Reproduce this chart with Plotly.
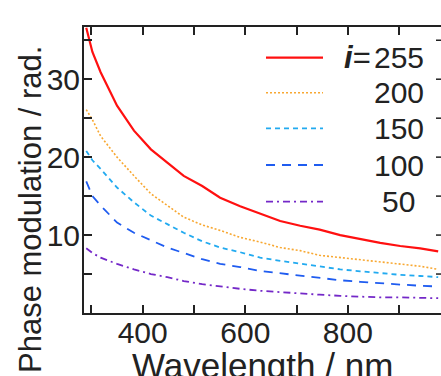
import plotly.graph_objects as go

# Wavelength samples (nm) and phase modulation (rad.) for each gray level i
wavelength = [290, 302, 318, 350, 383, 416, 448, 480, 516, 551, 590, 629,
              668, 707, 745, 785, 824, 863, 902, 941, 976]
phase_255 = [36.6, 33.5, 30.9, 26.6, 23.4, 21.0, 19.3, 17.6, 16.3, 14.8, 13.7, 12.7,
             11.8, 11.2, 10.7, 10.0, 9.5, 9.0, 8.6, 8.3, 7.9]
phase_200 = [26.1, 24.8, 22.7, 20.0, 17.6, 15.3, 13.8, 12.3, 11.3, 10.6, 9.7, 9.1,
             8.4, 8.0, 7.4, 7.1, 6.8, 6.5, 6.2, 6.0, 5.6]
phase_150 = [20.8, 19.6, 18.5, 16.1, 14.2, 12.5, 11.4, 10.3, 9.2, 8.4, 7.8, 7.1,
             6.7, 6.3, 6.0, 5.6, 5.35, 5.1, 4.9, 4.75, 4.6]
phase_100 = [16.9, 15.0, 13.8, 11.6, 10.3, 9.3, 8.4, 7.7, 6.9, 6.3, 5.9, 5.4,
             5.1, 4.8, 4.5, 4.2, 4.0, 3.8, 3.65, 3.5, 3.4]
phase_50 = [8.3, 7.7, 7.1, 6.3, 5.6, 5.0, 4.6, 4.1, 3.7, 3.4, 3.1, 2.85,
            2.65, 2.5, 2.35, 2.2, 2.1, 2.0, 2.0, 1.95, 1.9]

levels = ["255", "200", "150", "100", "50"]
series = [phase_255, phase_200, phase_150, phase_100, phase_50]
x_ticks = [400, 600, 800]
y_ticks = [10, 20, 30]
y_all_ticks = [5, 10, 15, 20, 25, 30, 35]

colors = ["#ff1010", "#f8a832", "#22aaf0", "#1f5cf0", "#7428c8"]
dashes = ["solid", "2px,2px", "5px,4px", "9px,7px", "7px,4px,2px,4px"]
widths = [2.2, 1.6, 1.8, 1.8, 1.8]

W, H = 441, 376
L, R, T, B = 84, 0, 27, 63
FONT = "Liberation Sans, Arial, sans-serif"
INK = "#222222"
X_RANGE = [285.6, 981.5]
Y_RANGE = [0, 36.7]
TICK_LEN = 8


def px_x(p):
    return (p - L) / (W - L - R)


def px_y(p):
    return (H - B - p) / (H - T - B)


fig = go.Figure()
for vals, c, d, w in zip(series, colors, dashes, widths):
    fig.add_trace(go.Scatter(x=wavelength, y=vals, mode="lines",
                             line=dict(color=c, dash=d, width=w),
                             showlegend=False, hoverinfo="skip"))

# right frame edge: inward ticks only (its line lies just past the page edge)
for yt in y_all_ticks:
    fig.add_shape(type="line", xref="paper", yref="y",
                  x0=1, x1=1 - 5 / (W - L - R), y0=yt, y1=yt,
                  line=dict(color=INK, width=1.5))

# hand-built legend: sample line + centred level label
row_y = [57.7, 92.7, 128.3, 165.0, 201.7]
for lvl, c, d, w, ry in zip(levels, colors, dashes, widths, row_y):
    fig.add_shape(type="line", xref="paper", yref="paper",
                  x0=px_x(266), x1=px_x(323), y0=px_y(ry), y1=px_y(ry),
                  line=dict(color=c, dash=d, width=w))
    fig.add_annotation(x=px_x(398.5), y=px_y(ry), xref="paper", yref="paper",
                       text=lvl, showarrow=False, xanchor="center", yanchor="middle",
                       font=dict(family=FONT, size=30, color=INK))
fig.add_annotation(x=px_x(373), y=px_y(row_y[0]), xref="paper", yref="paper",
                   text="<b><i>i</i></b>=", showarrow=False, xanchor="right",
                   yanchor="middle", font=dict(family=FONT, size=31, color=INK))

# axis titles
fig.add_annotation(x=px_x(31), y=px_y(210), xref="paper", yref="paper",
                   text="Phase modulation / rad.", textangle=-90, showarrow=False,
                   xanchor="center", yanchor="middle",
                   font=dict(family=FONT, size=31, color=INK))
fig.add_annotation(x=px_x(262), y=px_y(344), xref="paper", yref="paper",
                   text="Wavelength / nm", showarrow=False,
                   xanchor="center", yanchor="top",
                   font=dict(family=FONT, size=35, color=INK))

tick_style = dict(ticks="inside", ticklen=TICK_LEN, tickwidth=1.5, tickcolor=INK,
                  showgrid=False, zeroline=False)
x_minor = dict(dtick=100, tick0=0, ticks="inside", ticklen=TICK_LEN, tickwidth=1.5,
               tickcolor=INK, showgrid=False)
y_minor = dict(dtick=5, tick0=0, ticks="inside", ticklen=TICK_LEN, tickwidth=1.5,
               tickcolor=INK, showgrid=False)

fig.update_layout(
    width=W, height=H,
    margin=dict(l=L, r=R, t=T, b=B, pad=0),
    paper_bgcolor="white", plot_bgcolor="white",
    showlegend=False,
    # bottom axis mirrored to the top edge, with its ticks
    xaxis=dict(range=X_RANGE, tickvals=x_ticks, showline=True, linewidth=2,
               linecolor=INK, mirror="ticks", minor=x_minor, ticklabelstandoff=-8,
               tickfont=dict(family=FONT, size=30, color=INK), **tick_style),
    yaxis=dict(range=Y_RANGE, tickvals=y_ticks, showline=True, linewidth=2,
               linecolor=INK, mirror=False, minor=y_minor, ticklabelstandoff=-4,
               tickfont=dict(family=FONT, size=30, color=INK), **tick_style),
)

fig.write_html("out.html")
